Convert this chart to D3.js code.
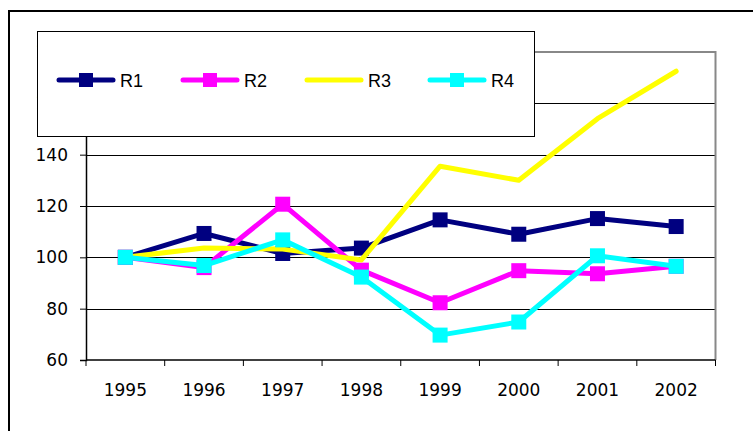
<!DOCTYPE html>
<html><head><meta charset="utf-8">
<script src="https://cdn.jsdelivr.net/npm/d3@7"></script>
<style>html,body{margin:0;padding:0;background:#fff;overflow:hidden}</style>
</head><body>
<script>
const years = ["1995","1996","1997","1998","1999","2000","2001","2002"];
const seriesNames = ["R1","R2","R3","R4"];
const seriesColors = ["#000080","#FF00FF","#FFFF00","#00FFFF"];
const seriesMarkers = [true,true,false,true];
const r1 = [100,109.3,101.5,103.6,114.6,109,115.1,112];
const r2 = [100,96,120.7,95,82.3,94.8,93.6,96.5];
const r3 = [100,103.6,103.2,99,135.5,130,154,172.5];
const r4 = [100,96.8,106.8,92.3,69.7,74.8,100.6,96.5];
const yTicks = [60,80,100,120,140,160,180];
const seriesValues = [r1,r2,r3,r4];

(function(){
const W = 753, H = 431;
const svg = d3.select("body").append("svg").attr("width",W).attr("height",H);

// outer chart border
svg.append("rect").attr("x",9).attr("y",11).attr("width",800).attr("height",500)
  .attr("fill","#fff").attr("stroke","#000").attr("stroke-width",2);

const pL=86, pR=715.5, pT=52, pB=360;
const x = d3.scaleBand().domain(years).range([pL,pR]).padding(0);
const y = d3.scaleLinear().domain([60,180]).range([pB,pT]);

// gridlines
svg.append("g").selectAll("line").data(yTicks.filter(d=>d>60 && d<180)).join("line")
  .attr("x1",pL).attr("x2",pR).attr("y1",d=>Math.round(y(d))+0.5).attr("y2",d=>Math.round(y(d))+0.5)
  .attr("stroke","#000").attr("stroke-width",1);

// plot area border (gray) top and right
svg.append("path").attr("d",`M${pL},${pT}H${pR}V${pB}`)
  .attr("fill","none").attr("stroke","#888").attr("stroke-width",2);

// y axis
const yAxis = svg.append("g").attr("transform",`translate(${pL},0)`)
  .call(d3.axisLeft(y).tickValues(yTicks).tickSize(6).tickPadding(12).tickFormat(d3.format("d")));
yAxis.select(".domain").attr("stroke","#000").attr("stroke-width",1.5);
yAxis.selectAll(".tick line").attr("stroke","#000");
yAxis.selectAll("text").attr("font-family","DejaVu Sans, Verdana, sans-serif").attr("font-size",17).attr("fill","#000");

// x axis: ticks at band boundaries
const xAxisG = svg.append("g").attr("transform",`translate(0,${pB})`);
xAxisG.append("line").attr("x1",pL).attr("x2",pR).attr("stroke","#000").attr("stroke-width",1.5);
const bounds = years.map(d=>x(d)).concat([x(years[years.length-1])+x.bandwidth()]);
xAxisG.selectAll("line.tk").data(bounds).join("line").attr("class","tk")
  .attr("x1",d=>d).attr("x2",d=>d).attr("y1",0).attr("y2",6).attr("stroke","#000");
xAxisG.selectAll("text").data(years).join("text")
  .attr("x",d=>x(d)+x.bandwidth()/2).attr("y",36).attr("text-anchor","middle")
  .attr("font-family","DejaVu Sans, Verdana, sans-serif").attr("font-size",17).attr("fill","#000")
  .text(d=>d);

// series
const line = d3.line().x((d,i)=>x(years[i])+x.bandwidth()/2).y(d=>y(d));
seriesValues.forEach((vals,si)=>{
  const g = svg.append("g");
  g.append("path").attr("d",line(vals)).attr("fill","none")
    .attr("stroke",seriesColors[si]).attr("stroke-width",5).attr("stroke-linejoin","round").attr("stroke-linecap","round");
  if(seriesMarkers[si]){
    const ms=15;
    g.selectAll("rect").data(vals).join("rect")
      .attr("x",(d,i)=>x(years[i])+x.bandwidth()/2-ms/2).attr("y",d=>y(d)-ms/2)
      .attr("width",ms).attr("height",ms).attr("fill",seriesColors[si]);
  }
});

// legend
const lg = svg.append("g");
lg.append("rect").attr("x",37.5).attr("y",31.5).attr("width",497).attr("height",105)
  .attr("fill","#fff").attr("stroke","#000").attr("stroke-width",1);
const legX = [57,181,305,428];
seriesNames.forEach((n,i)=>{
  const gx = legX[i], gy=80;
  lg.append("line").attr("x1",gx+2).attr("x2",gx+56).attr("y1",gy).attr("y2",gy)
    .attr("stroke",seriesColors[i]).attr("stroke-width",5).attr("stroke-linecap","round");
  if(seriesMarkers[i]){
    lg.append("rect").attr("x",gx+29-7).attr("y",gy-7).attr("width",14).attr("height",14).attr("fill",seriesColors[i]);
  }
  lg.append("text").attr("x",gx+63).attr("y",gy+6.5).attr("font-family","Liberation Sans, Arial, sans-serif")
    .attr("font-size",18).attr("fill","#000").text(n);
});
})();
</script>
</body></html>
